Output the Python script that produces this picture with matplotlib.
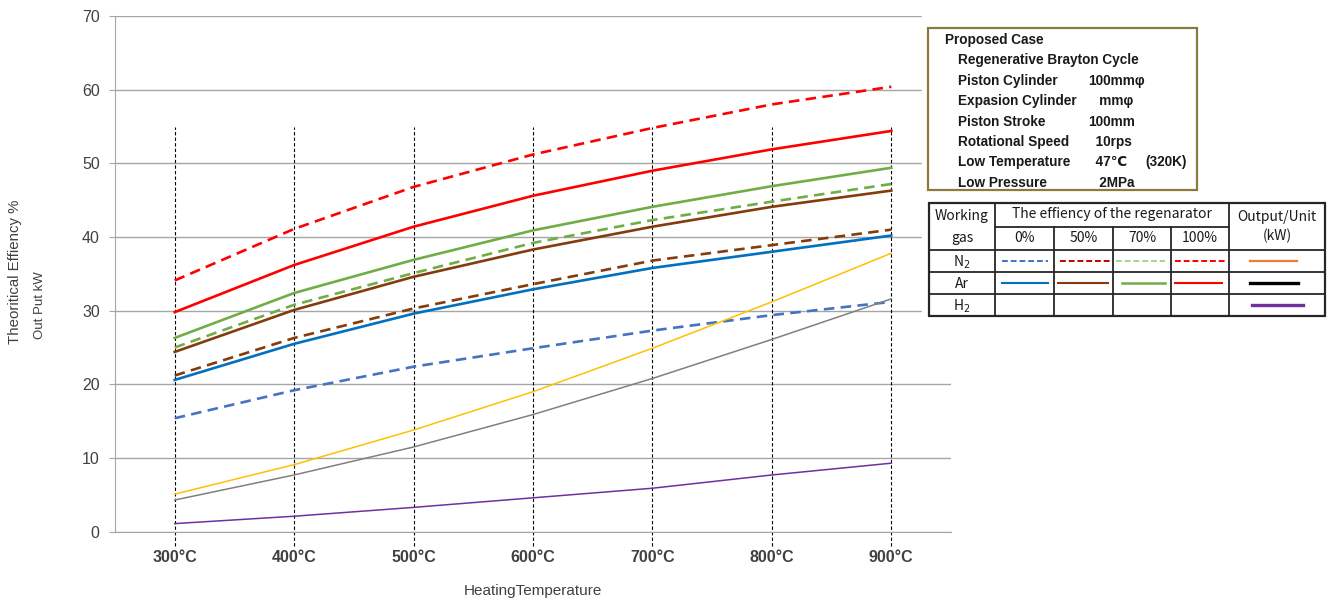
import matplotlib
matplotlib.use('Agg')
import matplotlib.pyplot as plt
from matplotlib.patches import Rectangle
from matplotlib.lines import Line2D
import numpy as np

plt.rcParams['font.family'] = ['Liberation Sans', 'DejaVu Sans']

temps = ['300°C', '400°C', '500°C', '600°C', '700°C', '800°C', '900°C']

# theoretical efficiency, %
n2_0 = [15.4, 19.2, 22.4, 24.9, 27.3, 29.4, 31.2]
n2_50 = [21.2, 26.3, 30.3, 33.6, 36.8, 38.9, 41.0]
n2_70 = [25.0, 30.8, 35.1, 39.2, 42.3, 44.8, 47.2]
n2_100 = [34.1, 41.1, 46.8, 51.2, 54.8, 58.0, 60.4]
ar_0 = [20.6, 25.5, 29.6, 32.9, 35.8, 38.0, 40.2]
ar_50 = [24.4, 30.1, 34.6, 38.3, 41.4, 44.1, 46.3]
ar_70 = [26.3, 32.4, 36.9, 40.9, 44.1, 46.9, 49.4]
ar_100 = [29.8, 36.2, 41.4, 45.6, 49.0, 51.9, 54.4]
# output, kW
out_n2 = [5.1, 9.1, 13.8, 19.0, 24.9, 31.2, 37.8]
out_ar = [4.3, 7.7, 11.5, 15.9, 20.8, 26.1, 31.6]
out_h2 = [1.1, 2.1, 3.3, 4.6, 5.9, 7.7, 9.3]

W, H = 1333, 599
fig = plt.figure(figsize=(W / 100, H / 100), dpi=100)
ax = fig.add_axes([115 / W, 1 - 531.7 / H, (951 - 115) / W, (531.7 - 16) / H])

x = np.arange(len(temps))
thick, thin = 1.9, 1.1
dash = (4, 2.4)
ax.plot(x, n2_100, color='#FF0000', lw=thick, dashes=dash, zorder=3)
ax.plot(x, ar_100, color='#FF0000', lw=thick, zorder=3)
ax.plot(x, ar_70, color='#70AD47', lw=thick, zorder=3)
ax.plot(x, n2_70, color='#70AD47', lw=thick, dashes=dash, zorder=3)
ax.plot(x, ar_50, color='#843C0C', lw=thick, zorder=3)
ax.plot(x, n2_50, color='#843C0C', lw=thick, dashes=dash, zorder=3)
ax.plot(x, ar_0, color='#0070C0', lw=thick, zorder=3)
ax.plot(x, n2_0, color='#4472C4', lw=thick, dashes=dash, zorder=3)
ax.plot(x, out_n2, color='#FFC000', lw=thin, zorder=3)
ax.plot(x, out_ar, color='#808080', lw=thin, zorder=3)
ax.plot(x, out_h2, color='#7030A0', lw=thin, zorder=3)

ax.vlines(x, -1.9, 55, colors='black', lw=0.8, linestyles=(0, (3, 2)),
          clip_on=False, zorder=2)

ax.set_xlim(-0.5, 6.5)
ax.set_ylim(0, 70)
ax.set_yticks(range(0, 71, 10))
ax.set_xticks(x)
ax.set_xticklabels(temps, fontweight='bold', fontsize=11.5, color='#404040')
ax.tick_params(axis='x', length=0, pad=13)
ax.tick_params(axis='y', length=4, color='#A6A6A6', labelsize=11.5,
               labelcolor='#404040', pad=7)
ax.grid(axis='y', color='#A6A6A6', lw=1)
for s in ['top', 'right']:
    ax.spines[s].set_visible(False)
ax.spines['left'].set_color('#A6A6A6')
ax.spines['bottom'].set_color('#A6A6A6')

narrow = ['Liberation Sans Narrow', 'Liberation Sans', 'DejaVu Sans']
ax.set_xlabel('HeatingTemperature', family=narrow, fontsize=11,
              color='#404040', labelpad=14)
fig.text(15 / W, 1 - 272 / H, 'Theoritical Effiency %', rotation=90,
         ha='center', va='center', family=narrow, fontsize=10.8, color='#404040')
fig.text(40 / W, 1 - 305 / H, 'Out Put kW', rotation=90,
         ha='center', va='center', family=narrow, fontsize=9.5, color='#404040')

# overlay in pixel coordinates for the info box and legend table
ov = fig.add_axes([0, 0, 1, 1], zorder=5)
ov.set_xlim(0, W)
ov.set_ylim(H, 0)
ov.axis('off')
ov.add_patch(Rectangle((922, 0), W - 922, 322, color='white', zorder=0))

ov.add_patch(Rectangle((928, 28), 269, 162, fill=False, ec='#8C7A3C', lw=1.6))
info = [
    ('Proposed Case', '', ''),
    ('Regenerative Brayton Cycle', '', ''),
    ('Piston Cylinder', '100mmφ', ''),
    ('Expasion Cylinder', '   mmφ', ''),
    ('Piston Stroke', '100mm', ''),
    ('Rotational Speed', '  10rps', ''),
    ('Low Temperature', '  47℃', '(320K)'),
    ('Low Pressure', '   2MPa', ''),
]
bold = dict(fontweight='bold', fontsize=9.8, color='#1A1A1A', va='center',
            family=['Liberation Sans', 'DejaVu Sans'])
for i, (a, b, c) in enumerate(info):
    yy = 40 + i * 20.4
    ov.text(945 if i == 0 else 958, yy, a, **bold)
    if b:
        ov.text(1088, yy, b, **bold)
    if c:
        ov.text(1145, yy, c, **bold)

# legend table
tc = '#262626'
cols = [929, 995, 1054, 1113, 1171, 1229, 1325]
rows = [203, 250, 272, 294, 316]
ov.add_patch(Rectangle((929, 203), 1325 - 929, 316 - 203, fill=False, ec=tc, lw=1.6))
for yy in rows[1:-1]:
    ov.add_line(Line2D([929, 1325], [yy, yy], color=tc, lw=1.3))
ov.add_line(Line2D([995, 1229], [227, 227], color=tc, lw=1.3))
for xx in [995, 1229]:
    ov.add_line(Line2D([xx, xx], [203, 316], color=tc, lw=1.3))
for xx in cols[2:5]:
    ov.add_line(Line2D([xx, xx], [227, 316], color=tc, lw=1.3))

cjk = ['Noto Sans CJK JP', 'DejaVu Sans']
reg = dict(fontsize=10, color='#1A1A1A', ha='center', va='center', family=cjk)
ov.text(962, 216, 'Working', **reg)
ov.text(962, 238, 'gas', **reg)
ov.text(1112, 214, 'The effiency of the regenarator', **reg)
for (l, r), t in zip(zip(cols[1:5], cols[2:6]), ['0%', '50%', '70%', '100%']):
    ov.text((l + r) / 2, 238, t, **reg)
ov.text(1277, 217, 'Output/Unit', **reg)
ov.text(1277, 236, '(kW)', **reg)
ov.text(962, 262, 'N$_2$', **reg)
ov.text(962, 284, 'Ar', **reg)
ov.text(962, 306, 'H$_2$', **reg)

samples = [
    (261, 1002, 1048, '#4472C4', (3, 1.5), 1.4),
    (261, 1060, 1110, '#C00000', (3, 1.5), 1.4),
    (261, 1116, 1165, '#A9D18E', (3, 1.5), 1.4),
    (261, 1175, 1225, '#FF0000', (3, 1.5), 1.4),
    (261, 1250, 1297, '#ED7D31', None, 1.6),
    (283, 1002, 1048, '#0070C0', None, 1.5),
    (283, 1058, 1108, '#843C0C', None, 1.5),
    (283, 1122, 1165, '#70AD47', None, 1.8),
    (283, 1175, 1222, '#FF0000', None, 1.5),
    (283, 1250, 1298, '#000000', None, 2.4),
    (305, 1252, 1303, '#7030A0', None, 2.4),
]
for yy, x0, x1, c, d, lw in samples:
    ln = Line2D([x0, x1], [yy, yy], color=c, lw=lw)
    if d:
        ln.set_dashes(d)
    ov.add_line(ln)

fig.savefig('out.png', dpi=100)
